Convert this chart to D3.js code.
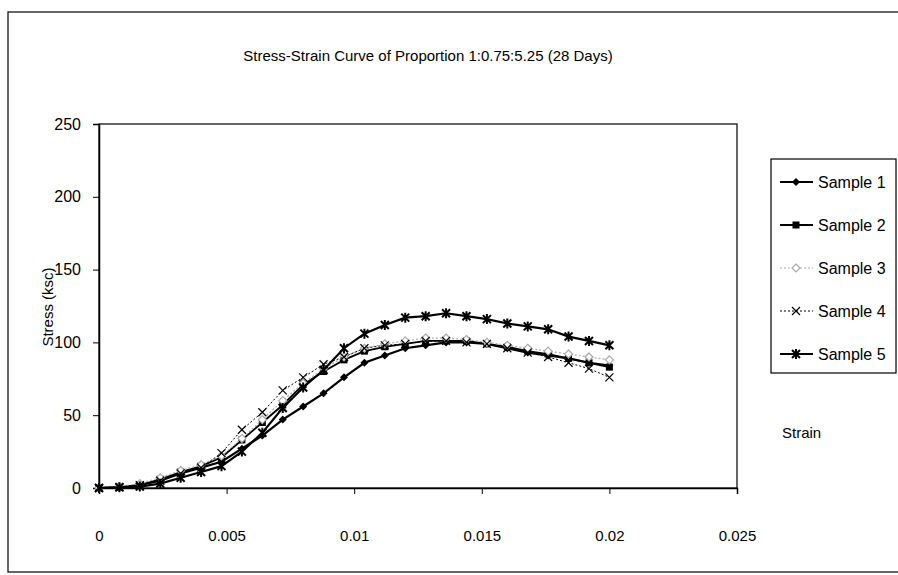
<!DOCTYPE html>
<html>
<head>
<meta charset="utf-8">
<script src="https://cdn.jsdelivr.net/npm/d3@7"></script>
<style>
  html, body { margin: 0; padding: 0; background: #fff; }
  svg { display: block; font-family: "Liberation Sans", Arial, sans-serif; }
</style>
</head>
<body>
<svg id="chart" width="898" height="575"></svg>
<script>
// ---- data ----
const strain = [0, 0.0008, 0.0016, 0.0024, 0.0032, 0.004, 0.0048, 0.0056, 0.0064, 0.0072,
  0.008, 0.0088, 0.0096, 0.0104, 0.0112, 0.012, 0.0128, 0.0136, 0.0144, 0.0152,
  0.016, 0.0168, 0.0176, 0.0184, 0.0192, 0.02];
const sample1 = [0, 0.5, 2, 5, 10, 14, 18, 27, 36, 47, 56, 65, 76, 86, 91, 96, 98, 100, 100, 99, 96, 93, 91, 89, 86, 84];
const sample2 = [0, 0.5, 2, 6, 11, 15, 21, 33, 45, 57, 71, 80, 88, 94, 97, 99, 101, 101, 101, 99, 97, 94, 92, 89, 86, 83];
const sample3 = [0, 1, 3, 7, 12, 16, 22, 34, 47, 60, 72, 82, 90, 96, 99, 101, 103, 103, 102, 100, 98, 96, 94, 92, 90, 88];
const sample4 = [0, 0.5, 2, 5, 10, 14, 24, 40, 52, 67, 76, 85, 90, 96, 98, 99, 101, 101, 100, 99, 96, 93, 90, 86, 82, 76];
const sample5 = [0, 0.5, 1, 3, 7, 11, 15, 25, 38, 55, 69, 81, 96, 106, 112, 117, 118, 120, 118, 116, 113, 111, 109, 104, 101, 98];
const seriesNames = ["Sample 1", "Sample 2", "Sample 3", "Sample 4", "Sample 5"];
const xTicks = [0, 0.005, 0.01, 0.015, 0.02, 0.025];
const yTicks = [0, 50, 100, 150, 200, 250];
const titleText = "Stress-Strain Curve of Proportion 1:0.75:5.25 (28 Days)";

// ---- layout ----
const svg = d3.select("#chart");
const plot = { left: 99, right: 737, top: 124, bottom: 488 };
const x = d3.scaleLinear().domain([0, 0.025]).range([plot.left, plot.right]);
const y = d3.scaleLinear().domain([0, 250]).range([plot.bottom, plot.top]);

// outer chart border
svg.append("rect").attr("x", 8).attr("y", 12).attr("width", 900).attr("height", 560)
  .attr("fill", "none").attr("stroke", "#000").attr("stroke-width", 1.2);

// title
svg.append("text").attr("x", 428).attr("y", 61).attr("text-anchor", "middle")
  .attr("font-size", 15).attr("fill", "#000").text(titleText);

// plot area border
svg.append("rect").attr("x", plot.left).attr("y", plot.top)
  .attr("width", plot.right - plot.left).attr("height", plot.bottom - plot.top)
  .attr("fill", "none").attr("stroke", "#000").attr("stroke-width", 1.2);

// axes
const yAxis = d3.axisLeft(y).tickValues(yTicks).tickSize(6).tickPadding(12).tickFormat(d3.format("d"));
const gy = svg.append("g").attr("transform", `translate(${plot.left},0)`).call(yAxis);
gy.select(".domain").attr("stroke-width", 1.5);
gy.selectAll("text").attr("font-size", 16).attr("fill", "#000").attr("font-family", "Liberation Sans, Arial");

const xAxis = d3.axisBottom(x).tickValues(xTicks).tickSize(6).tickPadding(36).tickFormat(d => d === 0 ? "0" : String(d));
const gx = svg.append("g").attr("transform", `translate(0,${plot.bottom})`).call(xAxis);
gx.select(".domain").attr("stroke-width", 1.5);
gx.selectAll("text").attr("font-size", 15).attr("fill", "#000").attr("font-family", "Liberation Sans, Arial");

// axis titles
svg.append("text").attr("transform", "translate(53,307) rotate(-90)").attr("text-anchor", "middle")
  .attr("font-size", 15).attr("fill", "#000").text("Stress (ksc)");
svg.append("text").attr("x", 782).attr("y", 438).attr("font-size", 15).attr("fill", "#000").text("Strain");

// series styles
const styles = [
  { data: sample1, color: "#000", width: 2.2, dash: null, marker: "diamond" },
  { data: sample2, color: "#000", width: 1.8, dash: null, marker: "square" },
  { data: sample3, color: "#aaa", width: 1.2, dash: "2,2", marker: "odiamond" },
  { data: sample4, color: "#000", width: 1, dash: "2,2", marker: "x" },
  { data: sample5, color: "#000", width: 2.2, dash: null, marker: "star" }
];

function drawMarker(g, type, cx, cy, color) {
  const s = 4;
  if (type === "diamond") {
    g.append("path").attr("d", `M${cx},${cy - s}L${cx + s},${cy}L${cx},${cy + s}L${cx - s},${cy}Z`).attr("fill", color);
  } else if (type === "square") {
    g.append("rect").attr("x", cx - 3.5).attr("y", cy - 3.5).attr("width", 7).attr("height", 7).attr("fill", color);
  } else if (type === "odiamond") {
    g.append("path").attr("d", `M${cx},${cy - s}L${cx + s},${cy}L${cx},${cy + s}L${cx - s},${cy}Z`)
      .attr("fill", "#fff").attr("stroke", color).attr("stroke-width", 1.2);
  } else if (type === "x") {
    g.append("path").attr("d", `M${cx - s},${cy - s}L${cx + s},${cy + s}M${cx - s},${cy + s}L${cx + s},${cy - s}`)
      .attr("stroke", color).attr("stroke-width", 1.2);
  } else if (type === "star") {
    g.append("path").attr("d", `M${cx - s},${cy - s}L${cx + s},${cy + s}M${cx - s},${cy + s}L${cx + s},${cy - s}M${cx},${cy - s - 1}L${cx},${cy + s + 1}`)
      .attr("stroke", color).attr("stroke-width", 2);
  }
}

const line = d3.line().x((d, i) => x(strain[i])).y(d => y(d));
styles.forEach(st => {
  const g = svg.append("g");
  g.append("path").datum(st.data).attr("d", line).attr("fill", "none")
    .attr("stroke", st.color).attr("stroke-width", st.width)
    .attr("stroke-dasharray", st.dash);
  st.data.forEach((v, i) => drawMarker(g, st.marker, x(strain[i]), y(v), st.color));
});

// legend
const legend = svg.append("g");
legend.append("rect").attr("x", 771).attr("y", 159).attr("width", 125).attr("height", 214)
  .attr("fill", "#fff").attr("stroke", "#000").attr("stroke-width", 1.2);
const legendY = [182, 225, 268, 311, 354];
styles.forEach((st, i) => {
  const ly = legendY[i];
  legend.append("line").attr("x1", 780).attr("x2", 813).attr("y1", ly).attr("y2", ly)
    .attr("stroke", st.color).attr("stroke-width", st.width).attr("stroke-dasharray", st.dash);
  drawMarker(legend, st.marker, 796, ly, st.color);
  legend.append("text").attr("x", 818).attr("y", ly + 6).attr("font-size", 16).attr("fill", "#000").text(seriesNames[i]);
});
</script>
</body>
</html>
